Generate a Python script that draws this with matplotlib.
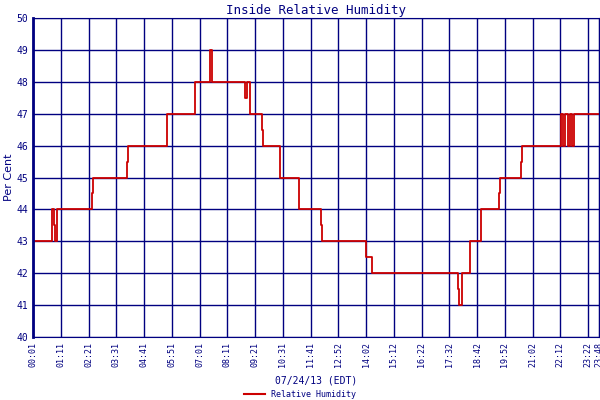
import matplotlib
matplotlib.use("Agg")
import matplotlib.pyplot as plt
from matplotlib.lines import Line2D

# minutes since midnight, humidity (%), step-post
minutes = [1, 49, 54, 56, 62, 150, 152, 238, 240, 339, 409, 447, 452, 535, 540, 548,
           578, 581, 624, 672, 727, 730, 840, 856, 1072, 1075, 1083, 1103, 1130, 1176,
           1178, 1231, 1234, 1332, 1337, 1342, 1350, 1355, 1360, 1365, 1373, 1428]
humidity = [43, 44, 43.5, 43, 44, 44.5, 45, 45.5, 46, 47, 48, 49, 48, 47.5, 48, 47,
            46.5, 46, 45, 44, 43.5, 43, 42.5, 42, 41.5, 41, 42, 43, 44, 44.5,
            45, 45.5, 46, 47, 46, 47, 46, 47, 46, 47, 47, 47]
tick_min = [1 + 70 * i for i in range(21)] + [1428]
tick_lab = ["00:01", "01:11", "02:21", "03:31", "04:41", "05:51", "07:01", "08:11",
            "09:21", "10:31", "11:41", "12:52", "14:02", "15:12", "16:22", "17:32",
            "18:42", "19:52", "21:02", "22:12", "23:22", "23:48"]

navy = "#000080"
mono = "DejaVu Sans Mono"

fig = plt.figure(figsize=(6, 4), dpi=100)
ax = fig.add_axes([0.055, 0.1575, 0.943, 0.7975])
ax.plot(minutes, humidity, drawstyle="steps-post", color="#cc0000", lw=1.3)
ax.set_xlim(1, 1428)
ax.set_ylim(40, 50)
ax.set_yticks(range(40, 51))
ax.set_xticks(tick_min)
ax.set_xticklabels(tick_lab, rotation=90, fontsize=6, family=mono, color=navy)
ax.tick_params(axis="y", labelsize=7, labelcolor=navy, length=0)
ax.tick_params(axis="x", length=0)
for lab in ax.get_yticklabels():
    lab.set_family(mono)
ax.grid(True, color=navy, lw=1)
for s in ax.spines.values():
    s.set_color(navy)
ax.spines["left"].set_linewidth(2)
ax.set_title("Inside Relative Humidity", color=navy, family=mono, fontsize=9, pad=3)
ax.set_ylabel("Per Cent", color=navy, fontsize=8, labelpad=2)
ax.set_xlabel("07/24/13 (EDT)", color=navy, family=mono, fontsize=7, labelpad=6)
fig.legend(handles=[Line2D([], [], color="#cc0000", lw=1.5)], labels=["Relative Humidity"],
           loc="center", bbox_to_anchor=(0.5, 0.013), frameon=False,
           prop={"family": mono, "size": 6}, labelcolor=navy, handlelength=2.5)
fig.savefig("out.png", dpi=100)
